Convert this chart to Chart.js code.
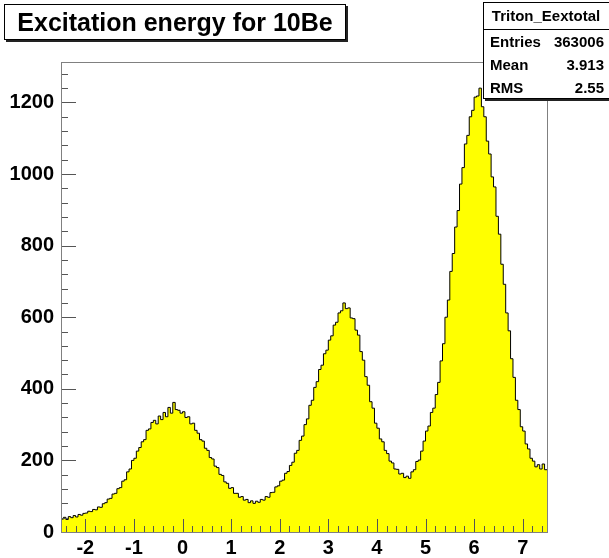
<!DOCTYPE html>
<html>
<head>
<meta charset="utf-8">
<script src="https://cdn.jsdelivr.net/npm/chart.js@4/dist/chart.umd.min.js"></script>
<style>
  html, body { margin: 0; padding: 0; background: #fff; }
  #wrap { position: relative; width: 609px; height: 558px; overflow: hidden; font-family: "Liberation Sans", Arial, sans-serif; }
  #chart { position: absolute; left: 0; top: 0; }
  .box { position: absolute; background: #fff; border: 1px solid #000; box-shadow: 2px 2px 0 #222; }
  #title { left: 4px; top: 4px; width: 340px; height: 34px; font-weight: bold; font-size: 25px; line-height: 34px; text-align: center; }
  #stats { left: 483px; top: 2px; width: 130px; height: 95px; font-weight: bold; font-size: 15px; }
  #stats .hdr { height: 26px; line-height: 26px; text-align: center; border-bottom: 1px solid #000; padding-right: 6px; }
  #stats .row { height: 23px; line-height: 23px; padding: 0 10px 0 6px; display: flex; justify-content: space-between; }
</style>
</head>
<body>
<div id="wrap">
  <canvas id="chart" width="609" height="558"></canvas>
  <div id="title" class="box">Excitation energy for 10Be</div>
  <div id="stats" class="box">
    <div class="hdr">Triton_Eextotal</div>
    <div class="row"><span>Entries</span><span>363006</span></div>
    <div class="row"><span>Mean</span><span>3.913</span></div>
    <div class="row"><span>RMS</span><span>2.55</span></div>
  </div>
</div>
<script>
// histogram binning
const xLow = -2.5;
const xHigh = 7.5;
const binWidth = 0.05;

// labelled ticks
const xTickValues = [-2, -1, 0, 1, 2, 3, 4, 5, 6, 7];
const yTickValues = [0, 200, 400, 600, 800, 1000, 1200];

// counts per bin (200 bins from -2.5 to 7.5)
const counts = [
  36, 41, 35, 43, 40, 46, 42, 49, 47, 52,
  53, 58, 57, 63, 62, 70, 69, 79, 82, 92,
  94, 106, 108, 121, 124, 142, 146, 168, 176, 200,
  206, 226, 236, 252, 258, 284, 288, 306, 312, 302,
  324, 314, 334, 322, 348, 332, 362, 342, 340, 332,
  336, 320, 322, 302, 304, 284, 276, 258, 254, 234,
  228, 208, 204, 184, 180, 161, 158, 140, 136, 122,
  124, 108, 108, 97, 99, 89, 91, 82, 87, 80,
  86, 83, 91, 89, 99, 97, 110, 111, 126, 129,
  142, 145, 164, 169, 186, 195, 220, 228, 256, 268,
  300, 316, 354, 368, 404, 420, 454, 466, 498, 508,
  536, 548, 578, 586, 612, 618, 640, 624, 626, 598,
  596, 564, 550, 504, 480, 434, 410, 364, 346, 304,
  290, 260, 252, 228, 219, 198, 193, 176, 175, 162,
  164, 152, 156, 150, 168, 174, 197, 201, 226, 254,
  282, 296, 334, 346, 384, 418, 478, 526, 600, 648,
  728, 778, 852, 898, 972, 1018, 1084, 1108, 1160, 1178,
  1215, 1218, 1240, 1188, 1160, 1092, 1056, 992, 964, 882,
  832, 748, 692, 612, 562, 484, 432, 368, 342, 294,
  282, 246, 232, 206, 198, 182, 188, 176, 190, 174
];

const yMax = 1313;

// step outline: one point per left bin edge, plus the closing right edge
const histPoints = counts.map((c, i) => ({ x: xLow + i * binWidth, y: c }));
histPoints.push({ x: xHigh, y: counts[counts.length - 1] });

// ROOT style inward ticks and frame
const rootAxes = {
  id: 'rootAxes',
  afterDatasetsDraw(chart) {
    const { ctx, chartArea: a, scales: { x, y } } = chart;
    ctx.save();
    ctx.lineWidth = 1;
    ctx.strokeStyle = '#555';
    ctx.beginPath();
    for (let k = Math.ceil(xLow / 0.2); k * 0.2 <= xHigh + 1e-9; k++) {
      const v = k * 0.2;
      const major = Math.abs(v - Math.round(v)) < 1e-6;
      const px = Math.round(x.getPixelForValue(v)) + 0.5;
      ctx.moveTo(px, a.bottom);
      ctx.lineTo(px, a.bottom - (major ? 13 : 6));
    }
    for (let v = 0; v <= yMax; v += 40) {
      const major = v % 200 === 0;
      const py = Math.round(y.getPixelForValue(v)) + 0.5;
      ctx.moveTo(a.left, py);
      ctx.lineTo(a.left + (major ? 15 : 7), py);
    }
    ctx.stroke();
    ctx.strokeStyle = '#808080';
    ctx.strokeRect(a.left + 0.5, a.top + 0.5, a.right - a.left, a.bottom - a.top);
    ctx.restore();
  }
};

const ctx = document.getElementById('chart').getContext('2d');
new Chart(ctx, {
  type: 'line',
  data: {
    datasets: [{
      data: histPoints,
      stepped: 'before',
      fill: 'origin',
      backgroundColor: '#ffff00',
      borderColor: '#000',
      borderWidth: 1,
      pointRadius: 0
    }]
  },
  options: {
    responsive: false,
    animation: false,
    layout: { padding: { top: 62, right: 62, left: 0, bottom: 0 } },
    plugins: { legend: { display: false }, tooltip: { enabled: false } },
    scales: {
      x: {
        type: 'linear',
        min: xLow,
        max: xHigh,
        grid: { display: false, drawTicks: false },
        border: { display: false },
        afterFit(scale) { scale.height = 26; },
        afterBuildTicks(scale) { scale.ticks = xTickValues.map(v => ({ value: v })); },
        ticks: {
          padding: 4,
          color: '#000',
          callback: v => String(v),
          font: { family: 'Liberation Sans', weight: 'bold', size: 20 }
        }
      },
      y: {
        min: 0,
        max: yMax,
        grid: { display: false, drawTicks: false },
        border: { display: false },
        afterFit(scale) { scale.width = 61; },
        afterBuildTicks(scale) { scale.ticks = yTickValues.map(v => ({ value: v })); },
        ticks: {
          padding: 7,
          color: '#000',
          callback: v => String(v),
          font: { family: 'Liberation Sans', weight: 'bold', size: 20 }
        }
      }
    }
  },
  plugins: [rootAxes]
});
</script>
</body>
</html>
